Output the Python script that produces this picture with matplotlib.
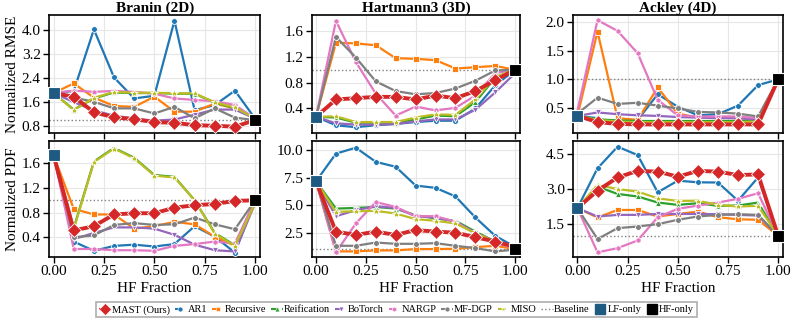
import numpy as np
import matplotlib
matplotlib.use("Agg")
import matplotlib.pyplot as plt
from matplotlib.lines import Line2D

plt.rcParams['font.family'] = ['Liberation Serif', 'DejaVu Serif']

hf_frac = [0.0, 0.1, 0.2, 0.3, 0.4, 0.5, 0.6, 0.7, 0.8, 0.9, 1.0]

methods = ['MAST (Ours)', 'AR1', 'Recursive', 'Reification', 'BoTorch', 'NARGP', 'MF-DGP', 'MISO']
colors = ['#d62728', '#1f77b4', '#ff7f0e', '#2ca02c', '#9467bd', '#e377c2', '#7f7f7f', '#bcbd22']
markers = ['D', 'o', 's', '^', 'v', 'h', 'o', '*']

# LF-only values (HF-only is 1.0 by normalization)
lf_only = {'branin_rmse': 1.9, 'hart_rmse': 0.27, 'ackley_rmse': 0.36,
           'branin_pdf': 1.73, 'hart_pdf': 7.18, 'ackley_pdf': 2.19}

branin_rmse = {
    'MAST (Ours)': [1.9, 1.78, 1.26, 1.09, 1.03, 0.93, 0.91, 0.83, 0.81, 0.78, 1.0],
    'AR1':         [1.9, 1.97, 4.02, 2.42, 1.72, 1.81, 4.31, 1.33, 1.5, 1.98, 1.05],
    'Recursive':   [1.9, 2.22, 1.75, 1.47, 1.44, 1.78, 1.28, 1.28, 1.55, 1.39, 1.05],
    'Reification': [1.9, 1.35, 1.72, 1.92, 1.9, 1.9, 1.88, 1.88, 1.58, 1.4, 1.05],
    'BoTorch':     [1.9, 1.6, 1.32, 1.15, 1.05, 0.98, 1.02, 1.18, 1.35, 1.35, 1.05],
    'NARGP':       [1.9, 1.98, 1.94, 1.97, 1.94, 1.88, 1.72, 1.67, 1.63, 1.5, 1.05],
    'MF-DGP':      [1.9, 1.75, 1.61, 1.39, 1.39, 1.22, 1.44, 1.06, 1.39, 1.08, 1.0],
    'MISO':        [1.9, 1.33, 1.74, 1.94, 1.91, 1.91, 1.89, 1.89, 1.59, 1.42, 1.05],
}
hart_rmse = {
    'MAST (Ours)': [0.27, 0.54, 0.56, 0.58, 0.58, 0.54, 0.6, 0.56, 0.67, 0.84, 1.0],
    'AR1':         [0.27, 0.14, 0.11, 0.14, 0.16, 0.19, 0.21, 0.21, 0.40, 0.76, 1.0],
    'Recursive':   [0.27, 1.42, 1.41, 1.38, 1.18, 1.17, 1.15, 1.02, 1.04, 1.06, 1.0],
    'Reification': [0.27, 0.26, 0.18, 0.18, 0.18, 0.23, 0.29, 0.28, 0.5, 0.88, 1.0],
    'BoTorch':     [0.27, 0.17, 0.15, 0.15, 0.16, 0.2, 0.23, 0.23, 0.38, 0.65, 0.95],
    'NARGP':       [0.27, 1.76, 1.12, 0.63, 0.29, 0.43, 0.37, 0.41, 0.6, 0.95, 1.0],
    'MF-DGP':      [0.27, 1.51, 1.19, 0.82, 0.67, 0.62, 0.64, 0.71, 0.83, 0.99, 1.0],
    'MISO':        [0.27, 0.28, 0.19, 0.19, 0.19, 0.26, 0.31, 0.30, 0.54, 0.89, 1.0],
}
ackley_rmse = {
    'MAST (Ours)': [0.36, 0.25, 0.22, 0.21, 0.21, 0.21, 0.21, 0.21, 0.21, 0.21, 1.0],
    'AR1':         [0.36, 0.32, 0.2, 0.29, 0.74, 0.52, 0.37, 0.39, 0.54, 0.9, 1.0],
    'Recursive':   [0.36, 1.84, 0.32, 0.29, 0.86, 0.4, 0.33, 0.33, 0.32, 0.3, 1.0],
    'Reification': [0.36, 0.3, 0.28, 0.27, 0.27, 0.27, 0.27, 0.27, 0.27, 0.27, 1.0],
    'BoTorch':     [0.36, 0.42, 0.39, 0.37, 0.36, 0.34, 0.33, 0.32, 0.32, 0.29, 1.0],
    'NARGP':       [0.45, 2.04, 1.85, 1.46, 0.64, 0.37, 0.35, 0.35, 0.35, 0.32, 1.0],
    'MF-DGP':      [0.4, 0.68, 0.57, 0.59, 0.54, 0.49, 0.43, 0.42, 0.40, 0.35, 1.0],
    'MISO':        [0.36, 0.29, 0.26, 0.25, 0.25, 0.25, 0.25, 0.25, 0.25, 0.26, 1.0],
}
branin_pdf = {
    'MAST (Ours)': [1.73, 0.51, 0.58, 0.77, 0.79, 0.79, 0.88, 0.92, 0.94, 0.99, 1.0],
    'AR1':         [1.73, 0.33, 0.18, 0.26, 0.28, 0.25, 0.29, 0.58, 0.41, 0.15, 1.0],
    'Recursive':   [1.73, 0.86, 0.77, 0.77, 0.54, 0.58, 0.65, 0.61, 0.41, 0.26, 1.0],
    'Reification': [1.73, 0.55, 1.63, 1.85, 1.69, 1.41, 1.38, 1.0, 0.47, 0.27, 0.95],
    'BoTorch':     [1.73, 0.37, 0.47, 0.56, 0.56, 0.54, 0.44, 0.28, 0.19, 0.17, 0.95],
    'NARGP':       [1.73, 0.21, 0.21, 0.19, 0.19, 0.18, 0.26, 0.29, 0.33, 0.3, 1.0],
    'MF-DGP':      [1.73, 0.4, 0.43, 0.6, 0.63, 0.6, 0.61, 0.72, 0.61, 0.53, 1.0],
    'MISO':        [1.73, 0.53, 1.62, 1.84, 1.68, 1.4, 1.37, 1.0, 0.46, 0.26, 0.95],
}
hart_pdf = {
    'MAST (Ours)': [7.18, 2.59, 2.29, 2.59, 2.29, 2.74, 2.59, 2.5, 2.08, 1.69, 1.2],
    'AR1':         [7.18, 9.7, 10.24, 8.95, 8.5, 6.79, 6.58, 5.8, 3.88, 2.2, 1.2],
    'Recursive':   [7.18, 0.79, 0.79, 0.88, 0.88, 1.0, 1.0, 1.03, 1.18, 1.3, 1.0],
    'Reification': [7.18, 4.69, 4.75, 4.84, 4.69, 4.09, 3.79, 3.58, 2.59, 1.69, 1.1],
    'BoTorch':     [7.18, 4.0, 4.54, 4.9, 4.75, 4.0, 3.88, 3.49, 2.5, 1.69, 1.1],
    'NARGP':       [7.18, 0.7, 3.34, 5.29, 4.84, 4.0, 4.0, 3.49, 2.38, 1.54, 1.1],
    'MF-DGP':      [7.18, 1.3, 1.3, 1.6, 1.48, 1.48, 1.54, 1.3, 1.09, 0.79, 0.95],
    'MISO':        [7.18, 4.39, 4.45, 4.48, 4.24, 3.73, 3.58, 3.34, 2.44, 1.69, 1.1],
}
ackley_pdf = {
    'MAST (Ours)': [2.19, 2.94, 3.51, 3.79, 3.76, 3.54, 3.79, 3.76, 3.61, 3.64, 1.0],
    'AR1':         [2.19, 3.9, 4.83, 4.47, 2.87, 3.37, 3.3, 3.29, 2.51, 3.51, 1.0],
    'Recursive':   [2.19, 1.79, 2.11, 2.11, 1.83, 1.94, 2.04, 1.8, 1.71, 1.69, 1.0],
    'Reification': [2.19, 3.11, 2.8, 2.69, 2.43, 2.33, 2.4, 2.29, 2.3, 2.43, 1.0],
    'BoTorch':     [2.19, 1.83, 1.9, 1.9, 1.94, 1.94, 1.94, 1.93, 1.9, 1.87, 1.0],
    'NARGP':       [2.19, 0.29, 0.47, 0.8, 1.8, 2.16, 2.3, 2.43, 2.59, 2.83, 1.0],
    'MF-DGP':      [2.19, 0.86, 1.33, 1.4, 1.5, 1.69, 1.83, 1.9, 1.93, 1.9, 1.0],
    'MISO':        [2.19, 3.19, 3.01, 2.9, 2.61, 2.5, 2.51, 2.33, 2.26, 2.29, 1.0],
}

panels = [
    ('branin_rmse', branin_rmse, 'Branin (2D)', [0.8, 1.6, 2.4, 3.2, 4.0], (0.57, 4.5)),
    ('hart_rmse', hart_rmse, 'Hartmann3 (3D)', [0.4, 0.8, 1.2, 1.6], (0.02, 1.85)),
    ('ackley_rmse', ackley_rmse, 'Ackley (4D)', [0.5, 1.0, 1.5, 2.0], (0.06, 2.13)),
    ('branin_pdf', branin_pdf, None, [0.4, 0.8, 1.2, 1.6], (0.08, 1.96)),
    ('hart_pdf', hart_pdf, None, [2.5, 5.0, 7.5, 10.0], (0.28, 10.84)),
    ('ackley_pdf', ackley_pdf, None, [1.5, 3.0, 4.5], (0.09, 5.07)),
]

lf_color = '#1f5a82'

fig = plt.figure(figsize=(7.93, 3.21), dpi=100)
lefts = [0.062, 0.393, 0.7226]
widths = [0.266, 0.263, 0.265]
bottoms = [0.5857, 0.1994]
heights = [0.3676, 0.361]

# draw baselines first, MAST last so it sits on top
order = methods[1:] + methods[:1]

for i, (key, data, title, yt, ylim) in enumerate(panels):
    r, c = divmod(i, 3)
    ax = fig.add_axes([lefts[c], bottoms[r], widths[c], heights[r]])
    ax.grid(True, color='#e6e6e6', linewidth=0.8)
    ax.set_axisbelow(True)
    ax.axhline(1.0, color='gray', linestyle=':', linewidth=1.0, zorder=1)
    for m in order:
        j = methods.index(m)
        col, mk = colors[j], markers[j]
        y = data[m]
        if m == 'MAST (Ours)':
            ax.plot(hf_frac, y, color=col, marker=mk, markersize=7, linewidth=2.8,
                    markeredgecolor='white', markeredgewidth=0.6,
                    markevery=list(range(1, 10)), zorder=5)
        else:
            ms = 6 if mk == '*' else 4.2
            ax.plot(hf_frac, y, color=col, marker=mk, markersize=ms, linewidth=1.6,
                    markeredgecolor='white', markeredgewidth=0.6,
                    markevery=list(range(1, 10)), zorder=3)
    ax.plot([0.0], [lf_only[key]], marker='s', markersize=9, color=lf_color,
            markeredgecolor='white', markeredgewidth=0.8, linestyle='none', zorder=6,
            clip_on=False)
    ax.plot([1.0], [1.0], marker='s', markersize=9, color='black',
            markeredgecolor='white', markeredgewidth=0.8, linestyle='none', zorder=6,
            clip_on=False)
    ax.set_xlim(-0.022, 1.025)
    ax.set_ylim(*ylim)
    ax.set_yticks(yt)
    ax.set_xticks([0, 0.25, 0.5, 0.75, 1.0])
    ax.tick_params(axis='both', labelsize=11, length=4, width=1.0, direction='out', pad=2)
    for s in ax.spines.values():
        s.set_color('black')
        s.set_linewidth(1.2)
    if r == 0:
        ax.set_xticklabels([])
        ax.set_title(title, fontsize=11, fontweight='bold', pad=2)
    else:
        ax.set_xlabel('HF Fraction', fontsize=11, labelpad=3)
    if c == 0:
        ax.set_ylabel('Normalized RMSE' if r == 0 else 'Normalized PDF', fontsize=11,
                      labelpad=2)

handles = []
for m, col, mk in zip(methods, colors, markers):
    handles.append(Line2D([], [], color=col, marker=mk, linestyle='--',
                          markersize=6 if m == 'MAST (Ours)' else 3.5,
                          linewidth=1.5, markeredgecolor='white', markeredgewidth=0.4,
                          label=m))
handles.append(Line2D([], [], color='gray', linestyle=':', linewidth=1.0, label='Baseline'))
handles.append(Line2D([], [], color=lf_color, marker='s', linestyle='none', markersize=7,
                      label='LF-only'))
handles.append(Line2D([], [], color='black', marker='s', linestyle='none', markersize=7,
                      label='HF-only'))

leg = fig.legend(handles=handles, loc='lower center', bbox_to_anchor=(0.5, 0.005),
                 ncol=11, fontsize=7.5, frameon=True, fancybox=False,
                 handlelength=1.1, handletextpad=0.15, columnspacing=0.45,
                 borderpad=0.25, borderaxespad=0.2)
leg.get_frame().set_edgecolor('#999999')
leg.get_frame().set_linewidth(1.2)

fig.savefig('out.png', dpi=100)
